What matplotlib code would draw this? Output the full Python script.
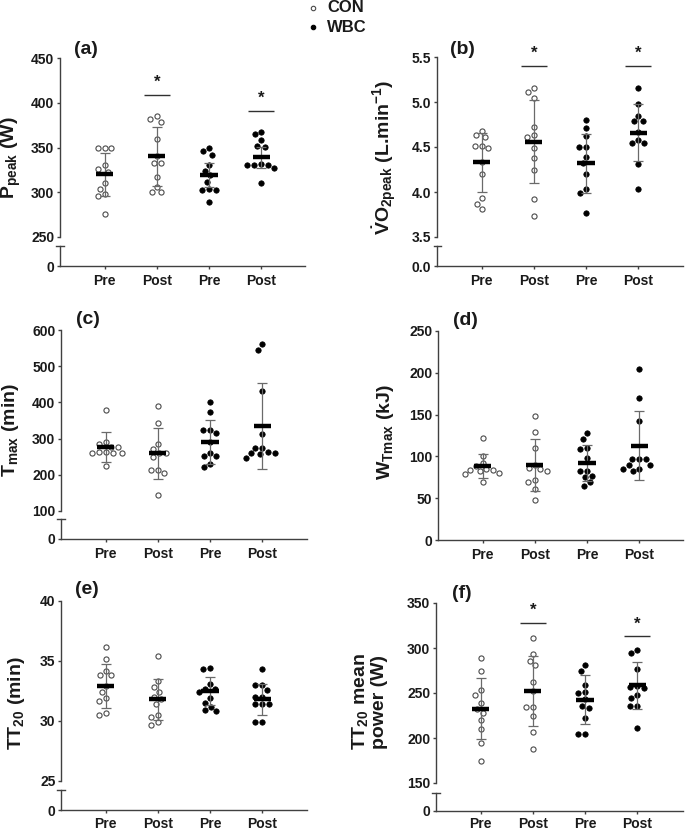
import matplotlib
matplotlib.use('Agg')
import matplotlib.pyplot as plt
import numpy as np
from matplotlib.lines import Line2D
from matplotlib.ticker import FormatStrFormatter

plt.rcParams['font.family'] = ['Liberation Sans', 'DejaVu Sans']
plt.rcParams['font.weight'] = 'bold'
plt.rcParams['mathtext.fontset'] = 'custom'
plt.rcParams['mathtext.rm'] = 'Liberation Sans:bold'
plt.rcParams['mathtext.bf'] = 'Liberation Sans:bold'
plt.rcParams['mathtext.it'] = 'Liberation Sans:bold'
plt.rcParams['mathtext.sf'] = 'Liberation Sans:bold'
plt.rcParams['mathtext.default'] = 'rm'

# ---------------- data ----------------
tick_labels = ['Pre', 'Post', 'Pre', 'Post']
groups = ['CON', 'CON', 'WBC', 'WBC']

# (a) Ppeak (W)
a_con_pre = [350, 349, 350, 330, 326, 323, 310, 304, 298, 296, 276]
a_con_post = [385, 379, 382, 359, 340, 333, 333, 317, 306, 300, 300]
a_wbc_pre = [349, 346, 342, 330, 324, 319, 312, 303, 303, 304, 289]
a_wbc_post = [367, 365, 358, 352, 351, 332, 331, 331, 327, 331, 310]
a_mean = [320, 340, 319, 339]
a_sd = [24, 32.5, 13.5, 12]
a_sig = [None, 409, None, 391]

# (b) VO2peak (L/min)
b_con_pre = [4.63, 4.61, 4.68, 4.51, 4.49, 4.51, 4.33, 4.20, 3.93, 3.87, 3.81]
b_con_post = [5.16, 5.11, 5.05, 4.72, 4.63, 4.61, 4.49, 4.38, 4.24, 3.92, 3.73]
b_wbc_pre = [4.80, 4.71, 4.62, 4.50, 4.50, 4.39, 4.32, 4.20, 4.03, 3.99, 3.77]
b_wbc_post = [5.16, 4.98, 4.85, 4.79, 4.79, 4.67, 4.58, 4.55, 4.54, 4.31, 4.03]
b_mean = [4.33, 4.56, 4.32, 4.66]
b_sd = [0.325, 0.465, 0.33, 0.315]
b_sig = [None, 5.40, None, 5.40]

# (c) Tmax (min)
c_con_pre = [378, 290, 286, 277, 276, 263, 261, 259, 261, 263, 224]
c_con_post = [390, 342, 286, 272, 261, 259, 249, 213, 214, 205, 144]
c_wbc_pre = [401, 374, 324, 324, 316, 291, 260, 251, 253, 231, 222]
c_wbc_post = [560, 545, 432, 314, 275, 275, 264, 259, 257, 260, 247]
c_mean = [277, 259, 291, 335]
c_sd = [40.5, 71, 60, 119.5]
c_sig = [None, None, None, None]

# (d) WTmax (kJ)
d_con_pre = [122, 101, 92, 89, 84, 80, 79, 82, 84, 85, 69]
d_con_post = [148, 129, 110, 90, 86, 85, 82, 72, 69, 61, 48]
d_wbc_pre = [128, 121, 110, 109, 98, 83, 82, 77, 75, 69, 65]
d_wbc_post = [204, 170, 142, 97, 97, 97, 90, 90, 85, 85, 82]
d_mean = [88.5, 89.7, 92.5, 112.8]
d_sd = [14.8, 31.5, 21.5, 41]
d_sig = [None, None, None, None]

# (e) TT20 (min)
e_con_pre = [36.2, 35.2, 34.2, 33.8, 33.8, 32.9, 32.4, 31.9, 31.7, 30.7, 30.5]
e_con_post = [35.4, 33.3, 32.8, 32.4, 32.0, 31.8, 31.4, 30.5, 30.3, 29.9, 29.7]
e_wbc_pre = [34.4, 34.3, 33.1, 32.7, 32.7, 32.4, 31.9, 31.5, 31.2, 30.9, 30.8]
e_wbc_post = [34.3, 33.0, 33.0, 32.6, 32.0, 32.0, 31.4, 31.4, 31.4, 29.9, 29.9]
e_mean = [32.9, 31.8, 32.5, 31.8]
e_sd = [1.85, 1.7, 1.2, 1.3]
e_sig = [None, None, None, None]

# (f) TT20 mean power (W)
f_con_pre = [289, 275, 253, 248, 239, 232, 228, 220, 210, 194, 175]
f_con_post = [311, 293, 286, 281, 262, 252, 234.5, 234.5, 224, 207, 188]
f_wbc_pre = [281, 275, 259, 251, 250, 243, 236, 233, 222, 205, 204]
f_wbc_post = [298, 294, 277, 258, 257, 256, 248, 244, 236, 236, 211]
f_mean = [232.6, 252, 242.6, 258.5]
f_sd = [34, 39, 27, 26.5]
f_sig = [None, 328, None, 313]

# ---------------- layout ----------------
W, H = 685, 831
fig = plt.figure(figsize=(W / 100, H / 100), dpi=100)

SPINE = '#404040'
EBAR = '#6a6a6a'
TXT = '#1a1a1a'
PX_PER_CAT = 52.3
FIRST_OFF = 44.5


def add_ax(l, r, t, b):
    return fig.add_axes([l / W, 1 - b / H, (r - l) / W, (b - t) / H])


def px2fig(x, y):
    return x / W, 1 - y / H


def swarm(ax, xc, vals, s_px=7.0):
    vals = np.asarray(vals, float)
    pts = ax.transData.transform(np.column_stack([np.full(len(vals), xc), vals]))
    ys = pts[:, 1]
    order = np.argsort(-vals, kind='stable')
    placed = []
    offs = np.zeros(len(vals))
    for i in order:
        y = ys[i]
        cands = [0.0]
        for (px, py) in placed:
            dy = abs(py - y)
            if dy < s_px:
                dx = np.sqrt(s_px ** 2 - dy ** 2)
                cands += [px + dx, px - dx]
        cands = sorted(cands, key=lambda c: (round(abs(c), 6), c))
        for c in cands:
            if all((c - px) ** 2 + (y - py) ** 2 >= s_px ** 2 - 1e-6 for px, py in placed):
                offs[i] = c
                placed.append((c, y))
                break
    ppu = ax.transData.transform((1, 0))[0] - ax.transData.transform((0, 0))[0]
    return xc + offs / ppu


def style_left(ax, fmt=None):
    ax.tick_params(axis='y', direction='out', length=2.5, width=1.0, color=SPINE,
                   labelsize=10, pad=1.5, labelcolor=TXT)
    for lab in ax.get_yticklabels():
        lab.set_fontweight('bold')
    if fmt:
        ax.yaxis.set_major_formatter(FormatStrFormatter(fmt))
    ax.spines['left'].set_color(SPINE)
    ax.spines['left'].set_linewidth(1.0)


def panel(l, r, t, b, low, ylim, yticks, data, mean, sd, sig, fmt=None, lowlabel=None,
          xpad=4):
    width = r - l
    xlim = (-FIRST_OFF / PX_PER_CAT, (width - FIRST_OFF) / PX_PER_CAT)
    ax = add_ax(l, r, t, b)
    ax.set_xlim(*xlim)
    ax.set_ylim(*ylim)
    ax.set_yticks(yticks)
    ax.patch.set_alpha(0)
    for s in ['top', 'right']:
        ax.spines[s].set_visible(False)
    style_left(ax, fmt)
    xs = np.arange(4)
    for i, vals in enumerate(data):
        xj = swarm(ax, xs[i], vals)
        if groups[i] == 'CON':
            ax.plot(xj, vals, 'o', ms=3.7, mfc='white', mec='#4a4a4a', mew=0.8,
                    zorder=2, clip_on=False)
        else:
            ax.plot(xj, vals, 'o', ms=3.9, mfc='black', mec='black', mew=0.5,
                    zorder=2, clip_on=False)
    ax.errorbar(xs, mean, yerr=sd, fmt='none', ecolor=EBAR, elinewidth=0.9,
                capsize=3.3, capthick=0.9, zorder=3)
    ax.hlines(mean, xs - 0.165, xs + 0.165, colors='black', lw=3.2, zorder=4)
    for i, sv in enumerate(sig):
        if sv is not None:
            ax.hlines(sv, xs[i] - 0.25, xs[i] + 0.25, colors='#303030', lw=1.0)
            ax.annotate('*', (xs[i], sv), xytext=(0, 3.5), textcoords='offset points',
                        ha='center', va='bottom', fontsize=12, fontweight='bold', color=TXT)
    if low is None:
        ax.spines['bottom'].set_color(SPINE)
        ax.spines['bottom'].set_linewidth(1.0)
        ax.set_xticks(xs)
        ax.set_xticklabels(tick_labels)
        ax.tick_params(axis='x', direction='out', length=2, width=1.0, color=SPINE,
                       labelsize=10, pad=xpad, labelcolor=TXT)
        for lab in ax.get_xticklabels():
            lab.set_fontweight('bold')
        return ax
    ax.spines['bottom'].set_visible(False)
    ax.set_xticks([])
    lt, lb = low
    axl = add_ax(l, r, lt, lb)
    axl.set_xlim(*xlim)
    axl.set_ylim(0, 1)
    axl.set_yticks([0])
    axl.set_yticklabels([lowlabel if lowlabel else '0'])
    axl.patch.set_alpha(0)
    for s in ['top', 'right']:
        axl.spines[s].set_visible(False)
    style_left(axl)
    axl.spines['bottom'].set_color(SPINE)
    axl.spines['bottom'].set_linewidth(1.0)
    axl.set_xticks(xs)
    axl.set_xticklabels(tick_labels)
    axl.tick_params(axis='x', direction='out', length=2, width=1.0, color=SPINE,
                    labelsize=10, pad=xpad, labelcolor=TXT)
    for lab in axl.get_xticklabels():
        lab.set_fontweight('bold')
    # break cap at top of lower spine
    x0, y0 = px2fig(l - 3.5, lt)
    x1, _ = px2fig(l + 3.5, lt)
    fig.add_artist(Line2D([x0, x1], [y0, y0], color=SPINE, lw=1.0,
                          transform=fig.transFigure))
    return ax


panel(60, 305, 58, 237, (246, 266), (250, 450), np.arange(250, 451, 50),
      [a_con_pre, a_con_post, a_wbc_pre, a_wbc_post], a_mean, a_sd, a_sig)
panel(437, 683, 57, 237, (246, 266), (3.5, 5.5), np.arange(3.5, 5.51, 0.5),
      [b_con_pre, b_con_post, b_wbc_pre, b_wbc_post], b_mean, b_sd, b_sig,
      fmt='%.1f', lowlabel='0.0')
panel(61, 307, 330, 511, (519, 539), (100, 600), np.arange(100, 601, 100),
      [c_con_pre, c_con_post, c_wbc_pre, c_wbc_post], c_mean, c_sd, c_sig)
panel(438, 683, 331, 540, None, (0, 250), np.arange(0, 251, 50),
      [d_con_pre, d_con_post, d_wbc_pre, d_wbc_post], d_mean, d_sd, d_sig)
panel(61, 307, 601, 781, (790, 810), (25, 40), np.arange(25, 41, 5),
      [e_con_pre, e_con_post, e_wbc_pre, e_wbc_post], e_mean, e_sd, e_sig, xpad=3)
panel(436, 683, 603, 783, (793, 811), (150, 350), np.arange(150, 351, 50),
      [f_con_pre, f_con_post, f_wbc_pre, f_wbc_post], f_mean, f_sd, f_sig, xpad=2.5)

# y labels
ylabels = [
    (r'P$_{\mathrm{peak}}$ (W)', 11, 158),
    (r'$\dot{\mathrm{V}}$O$_{\mathrm{2peak}}$ (L.min$^{\mathrm{-1}}$)', 384, 157),
    (r'T$_{\mathrm{max}}$ (min)', 11, 430),
    (r'W$_{\mathrm{Tmax}}$ (kJ)', 386, 432),
    (r'TT$_{\mathrm{20}}$ (min)', 17, 703),
    ('TT$_{\\mathrm{20}}$ mean\npower (W)', 369, 702),
]
for txt, x, y in ylabels:
    fx, fy = px2fig(x, y)
    fig.text(fx, fy, txt, rotation=90, ha='center', va='center', fontsize=14,
             fontweight='bold', color=TXT, linespacing=1.15, multialignment='center')

# panel letters
letters = [('(a)', 74, 49), ('(b)', 450, 49), ('(c)', 76, 319),
           ('(d)', 453, 320), ('(e)', 75, 589), ('(f)', 452, 593)]
for txt, x, y in letters:
    fx, fy = px2fig(x, y)
    fig.text(fx, fy, txt, ha='left', va='center', fontsize=14, fontweight='bold', color=TXT)

# legend
for name, y, face in [('CON', 8, 'white'), ('WBC', 27, 'black')]:
    mx, my = px2fig(313, y)
    fig.add_artist(Line2D([mx], [my], marker='o', ms=3.2, mfc=face,
                          mec='#4a4a4a' if face == 'white' else 'black', mew=0.8,
                          transform=fig.transFigure))
    tx, ty = px2fig(327, y)
    fig.text(tx, ty, name, ha='left', va='center', fontsize=12, fontweight='bold', color=TXT)

fig.savefig('out.png', dpi=100)
